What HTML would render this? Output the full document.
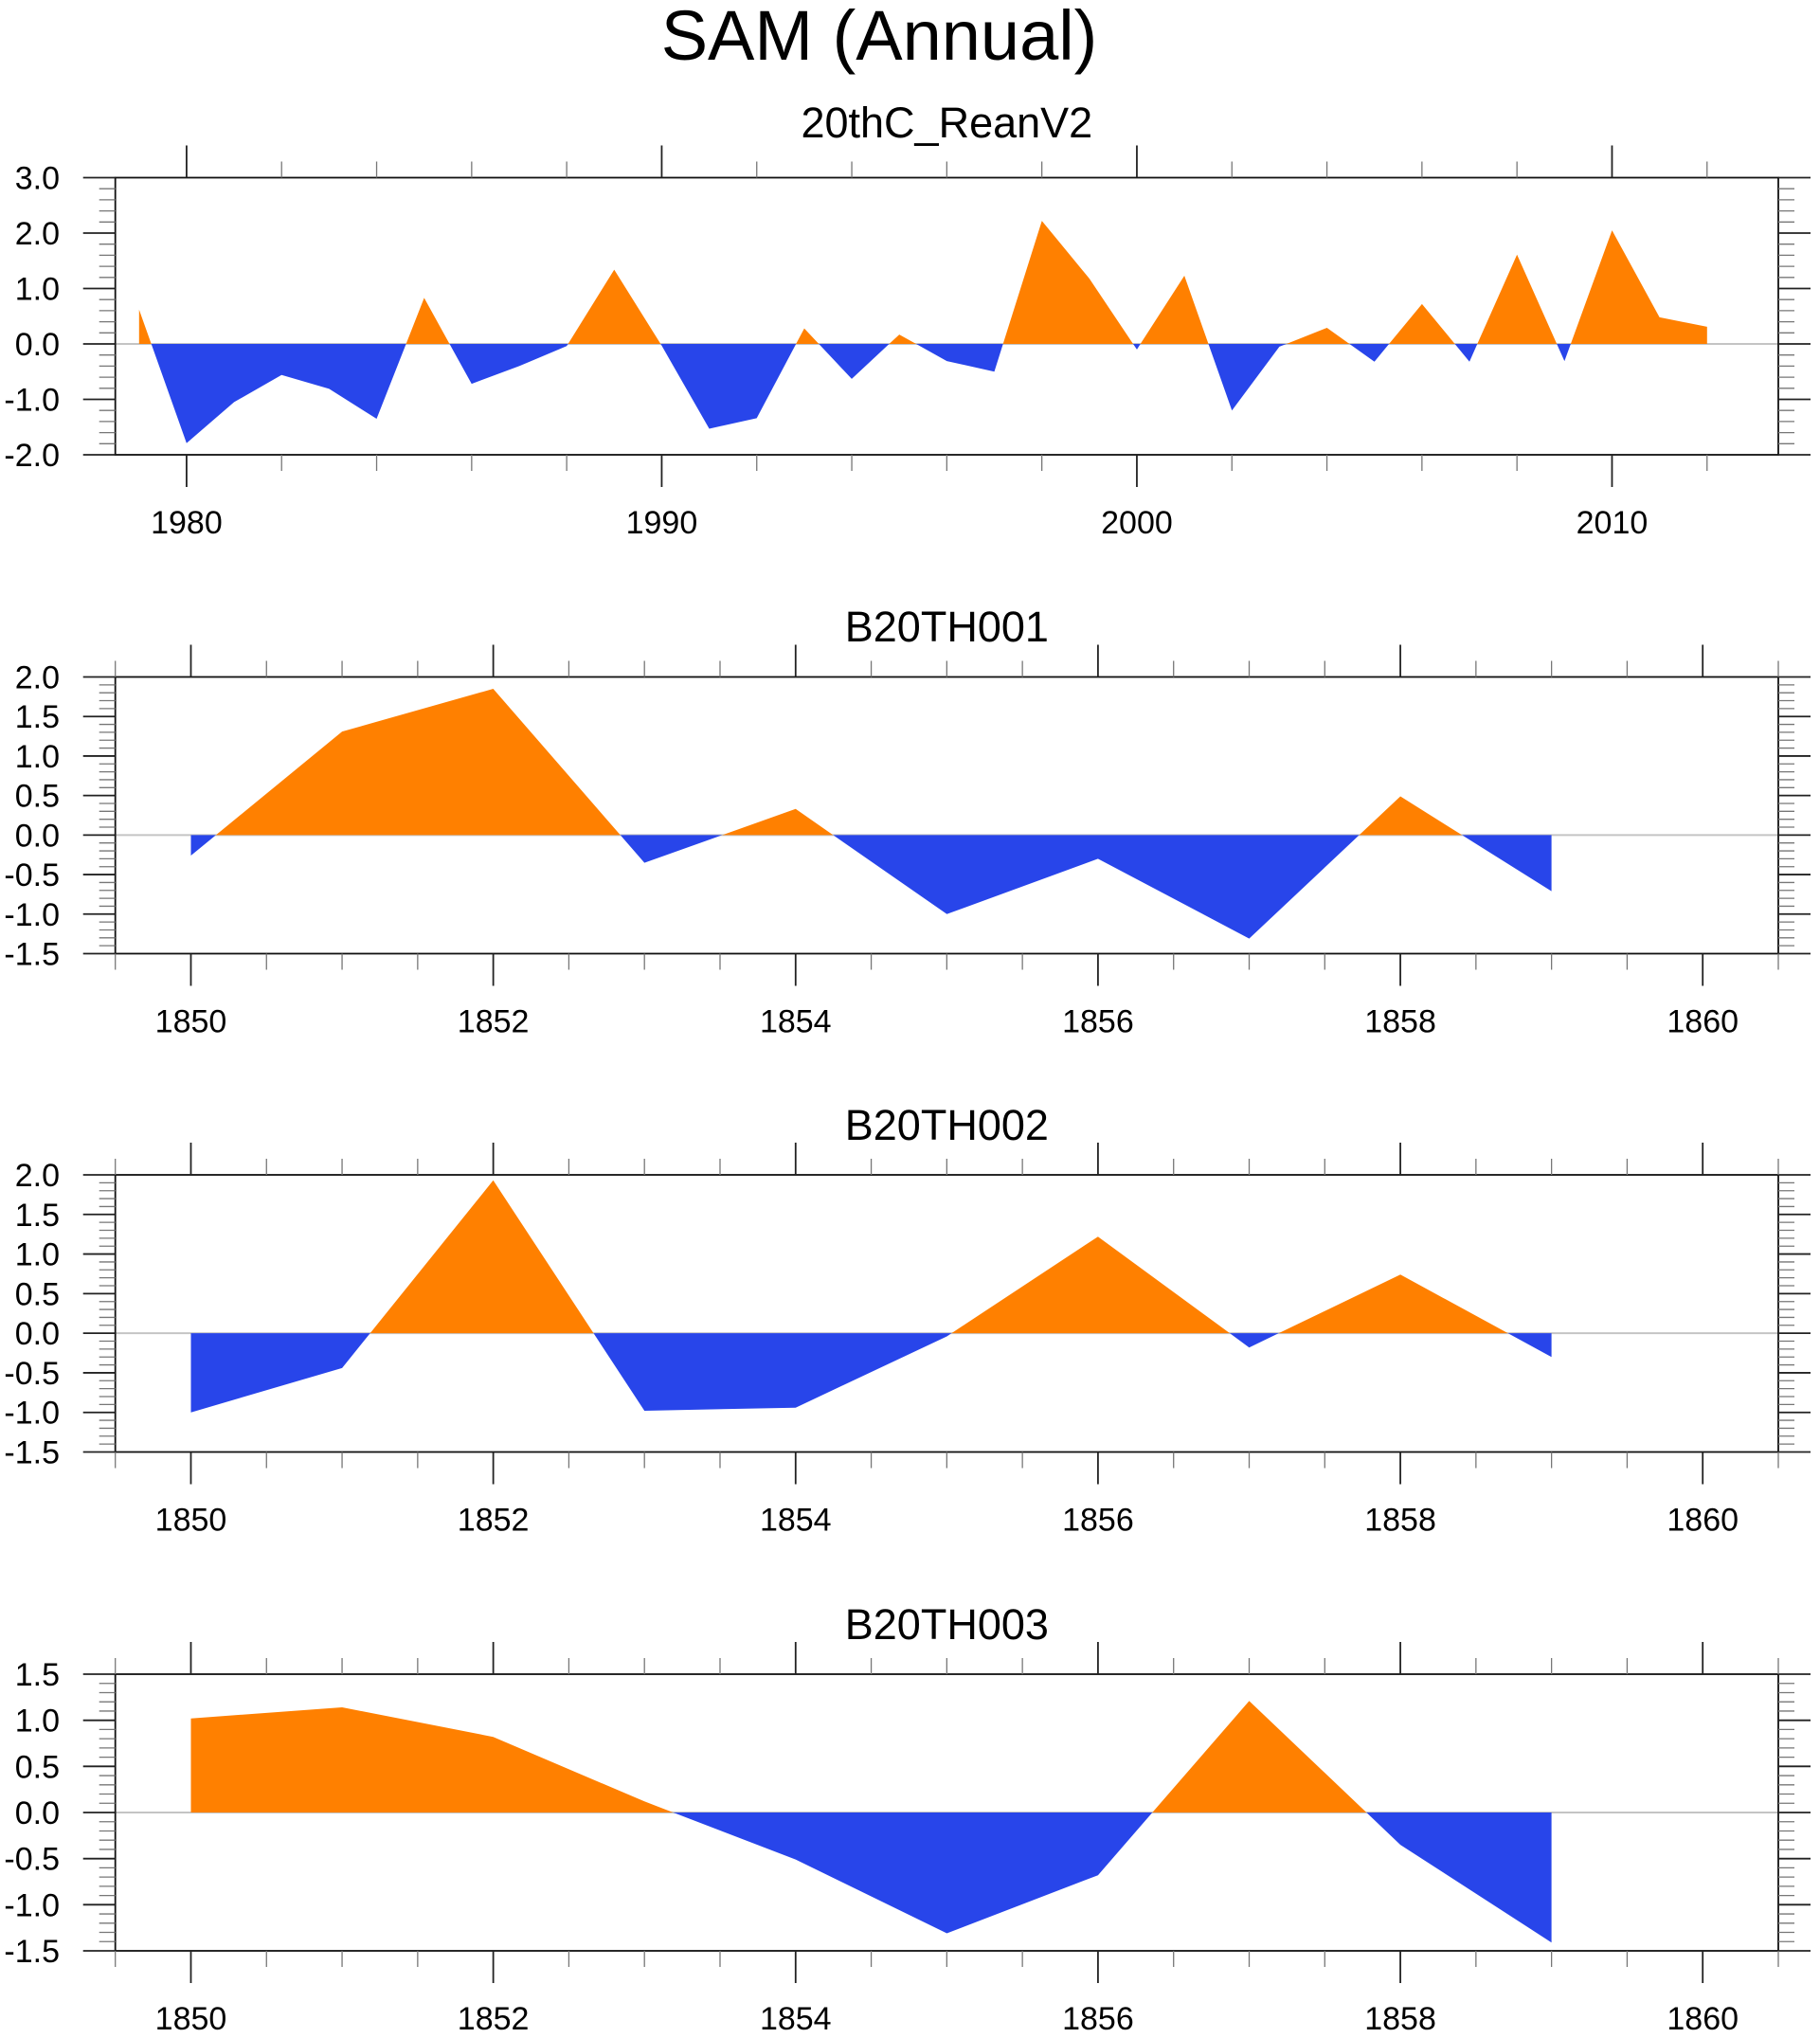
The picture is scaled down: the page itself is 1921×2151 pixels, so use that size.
<!DOCTYPE html>
<html>
<head>
<meta charset="utf-8">
<style>
html,body{margin:0;padding:0;background:#fff;}
svg{display:block;}
text{font-family:"Liberation Sans",Arial,sans-serif;fill:#000;}
</style>
</head>
<body>
<svg id="chart" width="1921" height="2151" viewBox="0 0 1921 2151" xmlns="http://www.w3.org/2000/svg">
<rect x="0" y="0" width="1921" height="2151" fill="#fff"/>
<text x="928" y="63" font-size="74" text-anchor="middle">SAM (Annual)</text>
</svg>
<script>
// ---- data ----
const reanYears = [1979,1980,1981,1982,1983,1984,1985,1986,1987,1988,1989,1990,1991,1992,1993,1994,1995,1996,1997,1998,1999,2000,2001,2002,2003,2004,2005,2006,2007,2008,2009,2010,2011,2012];
const reanValues = [0.62,-1.79,-1.05,-0.56,-0.81,-1.35,0.83,-0.72,-0.40,-0.04,1.34,-0.03,-1.53,-1.34,0.28,-0.63,0.17,-0.31,-0.50,2.22,1.18,-0.10,1.23,-1.20,-0.05,0.29,-0.32,0.72,-0.32,1.61,-0.31,2.05,0.48,0.31];
const modelYears = [1850,1851,1852,1853,1854,1855,1856,1857,1858,1859];
const b001Values = [-0.26,1.31,1.85,-0.35,0.33,-1.00,-0.30,-1.31,0.49,-0.71];
const b002Values = [-1.00,-0.44,1.93,-0.98,-0.94,-0.04,1.22,-0.18,0.74,-0.30];
const b003Values = [1.02,1.14,0.82,0.12,-0.51,-1.31,-0.68,1.21,-0.35,-1.41];
const reanYTicks = [3.0,2.0,1.0,0.0,-1.0,-2.0];
const modelYTicks = [2.0,1.5,1.0,0.5,0.0,-0.5,-1.0,-1.5];
const b003YTicks = [1.5,1.0,0.5,0.0,-0.5,-1.0,-1.5];
const reanXTicks = [1980,1990,2000,2010];
const modelXTicks = [1850,1852,1854,1856,1858,1860];

const NS = "http://www.w3.org/2000/svg";
const svg = document.getElementById('chart');
function mk(tag, attrs, parent){
  const e = document.createElementNS(NS, tag);
  for (const k in attrs) e.setAttribute(k, attrs[k]);
  (parent||svg).appendChild(e);
  return e;
}

const panels = [
  {name:'rean', title:'20thC_ReanV2', top:187.5, bottom:480, ymin:-2, ymax:3, yminor:0.2, xmin:1978.5, xmax:2013.5, xminor:2, years:reanYears, vals:reanValues, yticks:reanYTicks, xticks:reanXTicks, titleY:145},
  {name:'b20th001', title:'B20TH001', top:714.5, bottom:1006.5, ymin:-1.5, ymax:2, yminor:0.1, xmin:1849.5, xmax:1860.5, xminor:0.5, years:modelYears, vals:b001Values, yticks:modelYTicks, xticks:modelXTicks, titleY:677},
  {name:'b20th002', title:'B20TH002', top:1240, bottom:1532.5, ymin:-1.5, ymax:2, yminor:0.1, xmin:1849.5, xmax:1860.5, xminor:0.5, years:modelYears, vals:b002Values, yticks:modelYTicks, xticks:modelXTicks, titleY:1203},
  {name:'b20th003', title:'B20TH003', top:1767, bottom:2059, ymin:-1.5, ymax:1.5, yminor:0.1, xmin:1849.5, xmax:1860.5, xminor:0.5, years:modelYears, vals:b003Values, yticks:b003YTicks, xticks:modelXTicks, titleY:1730}
];
const L = 121.7, R = 1877;

panels.forEach(p => {
  const g = mk('g', {});
  
  
  const xs = v => L + (v - p.xmin) / (p.xmax - p.xmin) * (R - L);
  const ys = v => p.bottom - (v - p.ymin) / (p.ymax - p.ymin) * (p.bottom - p.top);

  const t = mk('text', {x:(L+R)/2, y:p.titleY, 'font-size':45, 'text-anchor':'middle'}, g);
  t.textContent = p.title;
  
  

  const z = mk('line', {x1:L, x2:R, y1:ys(0), y2:ys(0), stroke:'#c4c4c4', 'stroke-width':2}, g);
  
  

  const pts = p.years.map((yr,i)=>[yr, p.vals[i]]);
  function area(sign){
    let d = '';
    const segs = [];
    let cur = null;
    for (let i=0;i<pts.length;i++){
      const [x,v] = pts[i];
      const ok = sign>0 ? v>=0 : v<=0;
      if (i>0){
        const [x0,v0] = pts[i-1];
        if ((v0>0 && v<0) || (v0<0 && v>0)){
          const xc = x0 + (x - x0) * (v0/(v0 - v));
          if (cur){ cur.push([xc,0]); segs.push(cur); cur=null; }
          else { cur = [[xc,0]]; }
        }
      }
      if (ok){
        if (!cur) cur = [[x,0]];
        cur.push([x,v]);
      }
    }
    if (cur){ cur.push([cur[cur.length-1][0],0]); segs.push(cur); }
    segs.forEach(s=>{
      d += 'M' + s.map(q=>xs(q[0]).toFixed(1)+','+ys(q[1]).toFixed(1)).join('L') + 'Z';
    });
    return d;
  }
  const pos = mk('path', {d:area(1), fill:'#FF8000'}, g);
  
  
  const neg = mk('path', {d:area(-1), fill:'#2845EA'}, g);
  
  

  const fr = mk('rect', {x:L, y:p.top, width:R-L, height:p.bottom-p.top, fill:'none', stroke:'#111', 'stroke-width':1.8}, g);
  
  

  const yt = p.yticks[0] - p.yticks[1];
  const nMinor = Math.round((p.ymax - p.ymin)/p.yminor);
  for (let i=0;i<=nMinor;i++){
    const v = p.ymin + i*p.yminor;
    const isMajor = Math.abs(v/yt - Math.round(v/yt)) < 1e-6;
    const len = isMajor ? 34 : 17;
    mk('line', {x1:L-len, x2:L, y1:ys(v), y2:ys(v), stroke:isMajor?'#222':'#777', 'stroke-width':isMajor?1.8:1.3}, g);
    mk('line', {x1:R, x2:R+len, y1:ys(v), y2:ys(v), stroke:isMajor?'#222':'#777', 'stroke-width':isMajor?1.8:1.3}, g);
  }
  p.yticks.forEach(v=>{
    const tx = mk('text', {x:63, y:ys(v)+12, 'font-size':34, 'text-anchor':'end'}, g);
    tx.textContent = v.toFixed(1);
    
    
  });

  const xt = p.xticks[1] - p.xticks[0];
  const start = Math.ceil(p.xmin / p.xminor) * p.xminor;
  for (let v=start; v<=p.xmax+1e-6; v+=p.xminor){
    const isMajor = Math.abs(v/xt - Math.round(v/xt)) < 1e-6;
    const len = isMajor ? 34 : 17;
    mk('line', {x1:xs(v), x2:xs(v), y1:p.top-len, y2:p.top, stroke:isMajor?'#222':'#777', 'stroke-width':isMajor?1.8:1.3}, g);
    mk('line', {x1:xs(v), x2:xs(v), y1:p.bottom, y2:p.bottom+len, stroke:isMajor?'#222':'#777', 'stroke-width':isMajor?1.8:1.3}, g);
  }
  p.xticks.forEach(v=>{
    const tx = mk('text', {x:xs(v), y:p.bottom+83, 'font-size':34, 'text-anchor':'middle'}, g);
    tx.textContent = String(v);
    
    
  });
});
</script>
</body>
</html>
